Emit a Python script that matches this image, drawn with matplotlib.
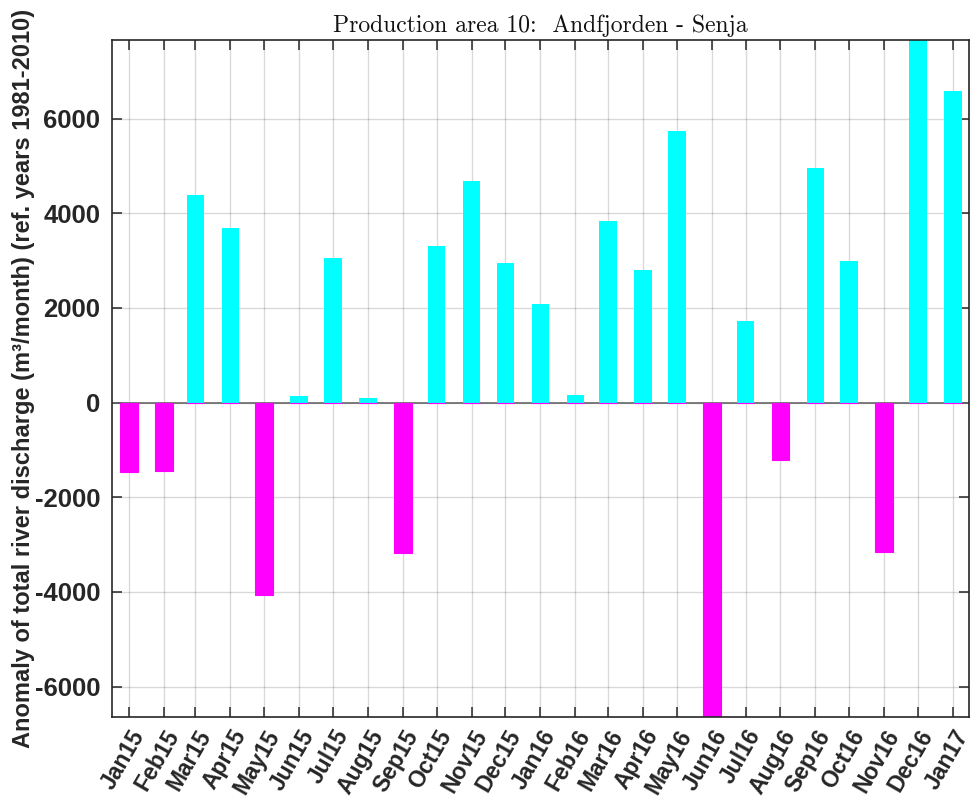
import matplotlib
matplotlib.use("Agg")
import matplotlib.pyplot as plt
import matplotlib.dates as mdates
from datetime import datetime, timedelta

# ---- data ----
month_starts = ["2015-01-01", "2015-02-01", "2015-03-01", "2015-04-01", "2015-05-01",
                "2015-06-01", "2015-07-01", "2015-08-01", "2015-09-01", "2015-10-01",
                "2015-11-01", "2015-12-01", "2016-01-01", "2016-02-01", "2016-03-01",
                "2016-04-01", "2016-05-01", "2016-06-01", "2016-07-01", "2016-08-01",
                "2016-09-01", "2016-10-01", "2016-11-01", "2016-12-01", "2017-01-01"]
tick_labels = ["Jan15", "Feb15", "Mar15", "Apr15", "May15", "Jun15", "Jul15", "Aug15",
               "Sep15", "Oct15", "Nov15", "Dec15", "Jan16", "Feb16", "Mar16", "Apr16",
               "May16", "Jun16", "Jul16", "Aug16", "Sep16", "Oct16", "Nov16", "Dec16",
               "Jan17"]
anomaly = [-1458, -1443, 4388, 3684, -4056, 142, 3063, 106, -3182, 3304, 4684, 2945,
           2085, 163, 3832, 2797, 5740, -6650, 1726, -1211, 4958, 3000, -3148, 7663, 6592]
yticks = [-6000, -4000, -2000, 0, 2000, 4000, 6000]
title = "Production area 10:  Andfjorden - Senja"
ylabel = "Anomaly of total river discharge (m\u00b3/month) (ref. years 1981-2010)"

dates = [datetime.strptime(d, "%Y-%m-%d") for d in month_starts]
x = mdates.date2num(dates)
pos_vals = [v if v > 0 else 0 for v in anomaly]
neg_vals = [v if v < 0 else 0 for v in anomaly]

fig = plt.figure(figsize=(9.72, 7.99), dpi=100)
ax = fig.add_axes([0.1152, 0.1022, 0.8820, 0.8478])

bar_w = 15.6
ax.bar(x, pos_vals, width=bar_w, color="#00FFFF", edgecolor="none", zorder=3)
ax.axhline(0, color="#666666", linewidth=1.2, zorder=2)
ax.bar(x, neg_vals, width=bar_w, color="#FF00FF", edgecolor="#FF00FF", linewidth=0.8, zorder=4)

ax.set_xlim(mdates.date2num(dates[0] - timedelta(days=15.1)),
            mdates.date2num(dates[-1] + timedelta(days=14.5)))
ax.set_ylim(min(anomaly), max(anomaly))

ax.set_xticks(x)
ax.set_xticklabels(tick_labels, rotation=60, ha="right", rotation_mode="anchor",
                   fontsize=16.5, fontweight="bold", family="Liberation Sans")
ax.set_yticks(yticks)
ax.set_yticklabels([str(v) for v in yticks],
                   fontsize=18.5, fontweight="bold", family="Liberation Sans")

ax.tick_params(axis="both", direction="in", length=7, width=1.1, color="#262626",
               top=True, right=True, labelcolor="#262626")
ax.tick_params(axis="x", pad=6)
ax.tick_params(axis="y", pad=8.5)

ax.grid(True, color="#000000", alpha=0.15, linewidth=1.0, zorder=0)
ax.set_axisbelow(True)
for s in ax.spines.values():
    s.set_color("#262626")
    s.set_linewidth(1.2)
    s.set_zorder(6)

ax.set_title(title, family="cmr10", fontsize=17, pad=6, color="#111111")
ax.set_ylabel(ylabel, fontsize=17, fontweight="bold", family="Liberation Sans", color="#262626")
ax.yaxis.set_label_coords(-0.090, 0.5)

fig.savefig("out.png", dpi=100)
